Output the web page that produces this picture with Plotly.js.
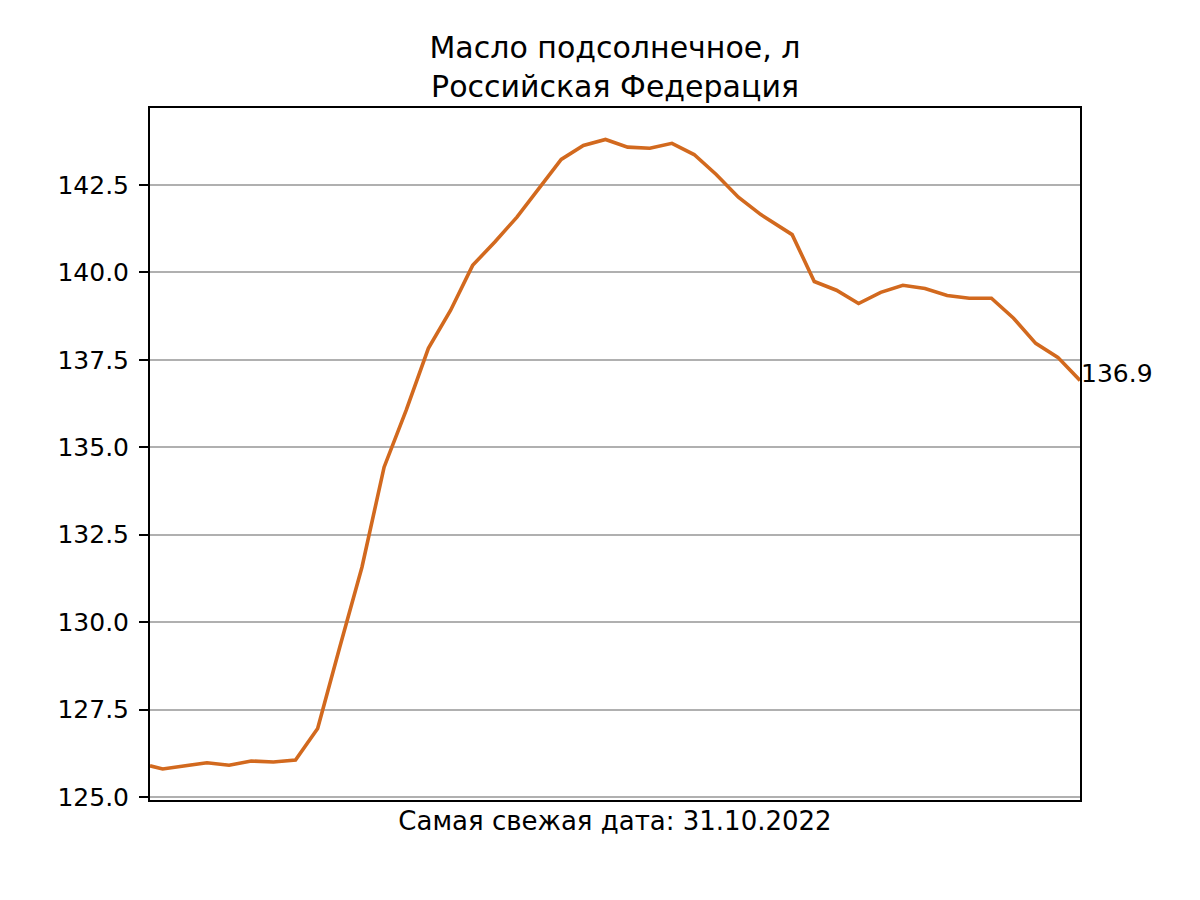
<!DOCTYPE html>
<html>
<head>
<meta charset="utf-8">
<script src="https://cdn.plot.ly/plotly-3.0.1.min.js"></script>
<style>html,body{margin:0;padding:0;background:#fff;}#chart{width:1200px;height:900px;}</style>
</head>
<body>
<div id="chart"></div>
<script>
const dates = [
  "2022-01-10","2022-01-14","2022-01-28","2022-02-04","2022-02-11","2022-02-18","2022-02-25",
  "2022-03-04","2022-03-11","2022-03-18","2022-03-25","2022-04-01","2022-04-08","2022-04-15",
  "2022-04-22","2022-04-29","2022-05-06","2022-05-13","2022-05-20","2022-05-27","2022-06-03",
  "2022-06-10","2022-06-17","2022-06-24","2022-07-01","2022-07-08","2022-07-15","2022-07-22",
  "2022-08-01","2022-08-08","2022-08-15","2022-08-22","2022-08-29","2022-09-05","2022-09-12",
  "2022-09-19","2022-09-26","2022-10-03","2022-10-10","2022-10-17","2022-10-24","2022-10-31"
];
const prices = [
  125.89,125.80,125.98,125.91,126.03,126.00,126.06,
  126.96,129.29,131.57,134.43,136.06,137.83,138.91,
  140.20,140.87,141.58,142.40,143.23,143.63,143.80,
  143.58,143.55,143.69,143.37,142.80,142.15,141.66,
  141.08,139.74,139.49,139.11,139.43,139.63,139.54,
  139.34,139.26,139.26,138.69,137.97,137.57,136.91
];
const yTicks = [125.0,127.5,130.0,132.5,135.0,137.5,140.0,142.5];
const yTickText = ["125.0","127.5","130.0","132.5","135.0","137.5","140.0","142.5"];
const titleText = "Масло подсолнечное, л<br>Российская Федерация";
const xLabel = "Самая свежая дата: 31.10.2022";
const lastLabel = "136.9";

const font = "DejaVu Sans, sans-serif";
const trace = {
  x: dates, y: prices, type: "scatter", mode: "lines",
  line: {color: "#d2691e", width: 3.6}, hoverinfo: "skip"
};
const layout = {
  width: 1200, height: 900,
  margin: {l: 150, r: 120, t: 108, b: 100},
  paper_bgcolor: "#fff", plot_bgcolor: "#fff",
  showlegend: false,
  font: {family: font, size: 25, color: "#000"},
  title: {
    text: titleText,
    font: {family: font, size: 30, color: "#000"},
    x: 0.5, xanchor: "center", xref: "paper",
    y: 1 - 58/900, yanchor: "top", yref: "container"
  },
  xaxis: {
    type: "date",
    range: [dates[0], dates[dates.length-1]],
    showticklabels: false, ticks: "", showgrid: false, zeroline: false,
    showline: true, linecolor: "#000", linewidth: 2, mirror: true,
    title: {text: xLabel, font: {family: font, size: 26, color: "#000"}, standoff: 11}
  },
  yaxis: {
    range: [124.914, 144.70],
    tickvals: yTicks, ticktext: yTickText,
    ticks: "outside", ticklen: 9, tickwidth: 2, tickcolor: "#000",
    ticklabelstandoff: 5,
    tickfont: {family: font, size: 25, color: "#000"},
    showgrid: true, gridcolor: "#b0b0b0", gridwidth: 2,
    zeroline: false,
    showline: true, linecolor: "#000", linewidth: 2, mirror: true
  },
  annotations: [{
    x: dates[dates.length-1], y: prices[prices.length-1],
    xref: "x", yref: "y", text: lastLabel, showarrow: false,
    xanchor: "left", yanchor: "bottom", xshift: -1, yshift: -10,
    font: {family: font, size: 25, color: "#000"}
  }]
};
Plotly.newPlot("chart", [trace], layout, {displayModeBar: false, staticPlot: true});
</script>
</body>
</html>
